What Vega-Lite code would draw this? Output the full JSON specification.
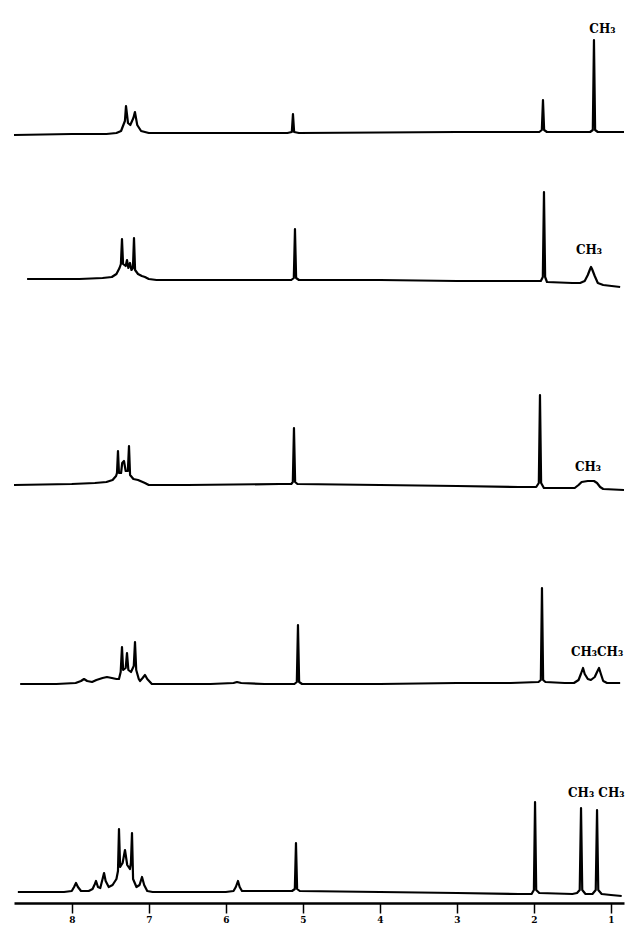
{
  "$schema": "https://vega.github.io/schema/vega-lite/v6.json",
  "padding": {"left": 12, "top": 0, "right": 0, "bottom": 0},
  "spacing": 0,
  "bounds": "flush",
  "config": {"view": {"stroke": null}},
  "datasets": {
    "spectra": [
      {"s":1,"ppm":8.75,"i":-2},{"s":1,"ppm":8.0,"i":-1},{"s":1,"ppm":7.55,"i":-1},{"s":1,"ppm":7.42,"i":0},{"s":1,"ppm":7.36,"i":2},{"s":1,"ppm":7.31,"i":12},{"s":1,"ppm":7.296,"i":27},{"s":1,"ppm":7.27,"i":10},{"s":1,"ppm":7.24,"i":8},{"s":1,"ppm":7.20,"i":15},{"s":1,"ppm":7.18,"i":21},{"s":1,"ppm":7.15,"i":8},{"s":1,"ppm":7.10,"i":2},{"s":1,"ppm":7.0,"i":0},{"s":1,"ppm":6.0,"i":0},{"s":1,"ppm":5.20,"i":0},{"s":1,"ppm":5.143,"i":1},{"s":1,"ppm":5.128,"i":19},{"s":1,"ppm":5.113,"i":1},{"s":1,"ppm":5.05,"i":0},{"s":1,"ppm":4.0,"i":0.5},{"s":1,"ppm":3.0,"i":1},{"s":1,"ppm":2.0,"i":1},{"s":1,"ppm":1.93,"i":1},{"s":1,"ppm":1.897,"i":3},{"s":1,"ppm":1.882,"i":33},{"s":1,"ppm":1.867,"i":3},{"s":1,"ppm":1.83,"i":1},{"s":1,"ppm":1.27,"i":1},{"s":1,"ppm":1.235,"i":3},{"s":1,"ppm":1.22,"i":93},{"s":1,"ppm":1.205,"i":3},{"s":1,"ppm":1.17,"i":1},{"s":1,"ppm":0.83,"i":1},

      {"s":2,"ppm":8.58,"i":1},{"s":2,"ppm":7.9,"i":1},{"s":2,"ppm":7.6,"i":2},{"s":2,"ppm":7.48,"i":3},{"s":2,"ppm":7.42,"i":6},{"s":2,"ppm":7.38,"i":12},{"s":2,"ppm":7.362,"i":16},{"s":2,"ppm":7.348,"i":41},{"s":2,"ppm":7.334,"i":16},{"s":2,"ppm":7.30,"i":14},{"s":2,"ppm":7.283,"i":20},{"s":2,"ppm":7.265,"i":12},{"s":2,"ppm":7.244,"i":17},{"s":2,"ppm":7.225,"i":10},{"s":2,"ppm":7.206,"i":12},{"s":2,"ppm":7.192,"i":42},{"s":2,"ppm":7.178,"i":10},{"s":2,"ppm":7.14,"i":6},{"s":2,"ppm":7.09,"i":4},{"s":2,"ppm":7.05,"i":3},{"s":2,"ppm":7.0,"i":1},{"s":2,"ppm":6.9,"i":0},{"s":2,"ppm":6.0,"i":0},{"s":2,"ppm":5.3,"i":0},{"s":2,"ppm":5.15,"i":0},{"s":2,"ppm":5.117,"i":2},{"s":2,"ppm":5.102,"i":51},{"s":2,"ppm":5.087,"i":2},{"s":2,"ppm":5.05,"i":0},{"s":2,"ppm":4.0,"i":0},{"s":2,"ppm":3.0,"i":-1},{"s":2,"ppm":2.2,"i":-1},{"s":2,"ppm":1.91,"i":-1},{"s":2,"ppm":1.884,"i":3},{"s":2,"ppm":1.869,"i":88},{"s":2,"ppm":1.854,"i":3},{"s":2,"ppm":1.83,"i":-2},{"s":2,"ppm":1.5,"i":-3},{"s":2,"ppm":1.40,"i":-3},{"s":2,"ppm":1.34,"i":-1},{"s":2,"ppm":1.30,"i":5},{"s":2,"ppm":1.27,"i":11},{"s":2,"ppm":1.258,"i":13},{"s":2,"ppm":1.245,"i":11},{"s":2,"ppm":1.21,"i":4},{"s":2,"ppm":1.17,"i":-3},{"s":2,"ppm":1.1,"i":-5},{"s":2,"ppm":0.88,"i":-7},

      {"s":3,"ppm":8.75,"i":0},{"s":3,"ppm":8.0,"i":1},{"s":3,"ppm":7.7,"i":2},{"s":3,"ppm":7.55,"i":3},{"s":3,"ppm":7.47,"i":5},{"s":3,"ppm":7.425,"i":9},{"s":3,"ppm":7.413,"i":12},{"s":3,"ppm":7.400,"i":34},{"s":3,"ppm":7.387,"i":12},{"s":3,"ppm":7.36,"i":12},{"s":3,"ppm":7.345,"i":22},{"s":3,"ppm":7.322,"i":24},{"s":3,"ppm":7.30,"i":14},{"s":3,"ppm":7.272,"i":14},{"s":3,"ppm":7.257,"i":39},{"s":3,"ppm":7.243,"i":10},{"s":3,"ppm":7.20,"i":6},{"s":3,"ppm":7.14,"i":5},{"s":3,"ppm":7.11,"i":4},{"s":3,"ppm":7.05,"i":2},{"s":3,"ppm":7.0,"i":0},{"s":3,"ppm":6.5,"i":0},{"s":3,"ppm":5.3,"i":1},{"s":3,"ppm":5.15,"i":1},{"s":3,"ppm":5.13,"i":3},{"s":3,"ppm":5.115,"i":57},{"s":3,"ppm":5.10,"i":3},{"s":3,"ppm":5.07,"i":1},{"s":3,"ppm":4.0,"i":0},{"s":3,"ppm":3.0,"i":-1},{"s":3,"ppm":2.2,"i":-2},{"s":3,"ppm":1.97,"i":-2},{"s":3,"ppm":1.936,"i":2},{"s":3,"ppm":1.921,"i":90},{"s":3,"ppm":1.906,"i":2},{"s":3,"ppm":1.87,"i":-3},{"s":3,"ppm":1.6,"i":-3},{"s":3,"ppm":1.47,"i":-3},{"s":3,"ppm":1.42,"i":0},{"s":3,"ppm":1.38,"i":3},{"s":3,"ppm":1.30,"i":4},{"s":3,"ppm":1.22,"i":4},{"s":3,"ppm":1.18,"i":2},{"s":3,"ppm":1.14,"i":-2},{"s":3,"ppm":1.10,"i":-4},{"s":3,"ppm":0.83,"i":-5},

      {"s":4,"ppm":8.67,"i":0},{"s":4,"ppm":8.2,"i":0},{"s":4,"ppm":7.95,"i":1},{"s":4,"ppm":7.88,"i":3},{"s":4,"ppm":7.841,"i":5},{"s":4,"ppm":7.80,"i":3},{"s":4,"ppm":7.737,"i":2},{"s":4,"ppm":7.68,"i":4},{"s":4,"ppm":7.60,"i":6},{"s":4,"ppm":7.543,"i":7},{"s":4,"ppm":7.48,"i":6},{"s":4,"ppm":7.42,"i":5},{"s":4,"ppm":7.387,"i":5},{"s":4,"ppm":7.365,"i":12},{"s":4,"ppm":7.348,"i":37},{"s":4,"ppm":7.333,"i":14},{"s":4,"ppm":7.30,"i":16},{"s":4,"ppm":7.283,"i":31},{"s":4,"ppm":7.265,"i":14},{"s":4,"ppm":7.231,"i":12},{"s":4,"ppm":7.195,"i":18},{"s":4,"ppm":7.179,"i":42},{"s":4,"ppm":7.163,"i":14},{"s":4,"ppm":7.13,"i":5},{"s":4,"ppm":7.114,"i":3},{"s":4,"ppm":7.08,"i":6},{"s":4,"ppm":7.049,"i":9},{"s":4,"ppm":7.02,"i":5},{"s":4,"ppm":6.96,"i":0},{"s":4,"ppm":6.2,"i":0},{"s":4,"ppm":5.90,"i":1},{"s":4,"ppm":5.855,"i":2},{"s":4,"ppm":5.80,"i":1},{"s":4,"ppm":5.5,"i":0},{"s":4,"ppm":5.11,"i":0},{"s":4,"ppm":5.078,"i":2},{"s":4,"ppm":5.063,"i":59},{"s":4,"ppm":5.048,"i":2},{"s":4,"ppm":5.01,"i":0},{"s":4,"ppm":4.0,"i":0},{"s":4,"ppm":3.0,"i":1},{"s":4,"ppm":2.3,"i":1},{"s":4,"ppm":1.94,"i":2},{"s":4,"ppm":1.91,"i":4},{"s":4,"ppm":1.895,"i":96},{"s":4,"ppm":1.88,"i":4},{"s":4,"ppm":1.85,"i":2},{"s":4,"ppm":1.6,"i":1},{"s":4,"ppm":1.48,"i":1},{"s":4,"ppm":1.42,"i":4},{"s":4,"ppm":1.39,"i":10},{"s":4,"ppm":1.362,"i":16},{"s":4,"ppm":1.34,"i":10},{"s":4,"ppm":1.30,"i":5},{"s":4,"ppm":1.26,"i":4},{"s":4,"ppm":1.21,"i":7},{"s":4,"ppm":1.18,"i":12},{"s":4,"ppm":1.154,"i":16},{"s":4,"ppm":1.13,"i":10},{"s":4,"ppm":1.10,"i":3},{"s":4,"ppm":1.05,"i":1},{"s":4,"ppm":0.88,"i":1},

      {"s":5,"ppm":8.70,"i":1},{"s":5,"ppm":8.10,"i":1},{"s":5,"ppm":8.00,"i":2},{"s":5,"ppm":7.97,"i":6},{"s":5,"ppm":7.945,"i":10},{"s":5,"ppm":7.92,"i":6},{"s":5,"ppm":7.88,"i":2},{"s":5,"ppm":7.78,"i":2},{"s":5,"ppm":7.73,"i":4},{"s":5,"ppm":7.70,"i":9},{"s":5,"ppm":7.685,"i":12},{"s":5,"ppm":7.66,"i":6},{"s":5,"ppm":7.63,"i":5},{"s":5,"ppm":7.60,"i":14},{"s":5,"ppm":7.581,"i":20},{"s":5,"ppm":7.56,"i":12},{"s":5,"ppm":7.52,"i":6},{"s":5,"ppm":7.47,"i":8},{"s":5,"ppm":7.42,"i":14},{"s":5,"ppm":7.40,"i":22},{"s":5,"ppm":7.387,"i":64},{"s":5,"ppm":7.372,"i":26},{"s":5,"ppm":7.34,"i":30},{"s":5,"ppm":7.309,"i":43},{"s":5,"ppm":7.28,"i":28},{"s":5,"ppm":7.245,"i":24},{"s":5,"ppm":7.232,"i":30},{"s":5,"ppm":7.218,"i":60},{"s":5,"ppm":7.204,"i":14},{"s":5,"ppm":7.16,"i":6},{"s":5,"ppm":7.12,"i":8},{"s":5,"ppm":7.088,"i":16},{"s":5,"ppm":7.06,"i":8},{"s":5,"ppm":7.02,"i":2},{"s":5,"ppm":6.95,"i":1},{"s":5,"ppm":6.0,"i":1},{"s":5,"ppm":5.90,"i":2},{"s":5,"ppm":5.87,"i":6},{"s":5,"ppm":5.842,"i":12},{"s":5,"ppm":5.82,"i":6},{"s":5,"ppm":5.79,"i":2},{"s":5,"ppm":5.5,"i":2},{"s":5,"ppm":5.14,"i":2},{"s":5,"ppm":5.104,"i":4},{"s":5,"ppm":5.089,"i":50},{"s":5,"ppm":5.074,"i":4},{"s":5,"ppm":5.04,"i":2},{"s":5,"ppm":4.0,"i":1},{"s":5,"ppm":3.0,"i":0},{"s":5,"ppm":2.2,"i":-1},{"s":5,"ppm":2.03,"i":-1},{"s":5,"ppm":2.0,"i":3},{"s":5,"ppm":1.985,"i":91},{"s":5,"ppm":1.97,"i":3},{"s":5,"ppm":1.93,"i":0},{"s":5,"ppm":1.5,"i":-1},{"s":5,"ppm":1.44,"i":0},{"s":5,"ppm":1.405,"i":3},{"s":5,"ppm":1.388,"i":85},{"s":5,"ppm":1.372,"i":3},{"s":5,"ppm":1.33,"i":-1},{"s":5,"ppm":1.24,"i":-1},{"s":5,"ppm":1.197,"i":3},{"s":5,"ppm":1.180,"i":83},{"s":5,"ppm":1.164,"i":3},{"s":5,"ppm":1.12,"i":-1},{"s":5,"ppm":1.0,"i":-2},{"s":5,"ppm":0.86,"i":-3}
    ],
    "labels": [
      {"s":1,"ppm":1.11,"i":104,"label":"CH₃"},
      {"s":2,"ppm":1.284,"i":30,"label":"CH₃"},
      {"s":3,"ppm":1.297,"i":18,"label":"CH₃"},
      {"s":4,"ppm":1.18,"i":32,"label":"CH₃CH₃"},
      {"s":5,"ppm":1.19,"i":100,"label":"CH₃ CH₃"}
    ]
  },
  "vconcat": [
    {
      "width": 610, "height": 140,
      "layer": [
        {"data": {"name": "spectra"}, "transform": [{"filter": "datum.s == 1"}],
         "mark": {"type": "line", "color": "black", "strokeWidth": 2.2, "strokeJoin": "round"},
         "encoding": {
           "x": {"field": "ppm", "type": "quantitative", "scale": {"domain": [8.75, 0.83], "nice": false, "zero": false}, "axis": null},
           "y": {"field": "i", "type": "quantitative", "scale": {"domain": [-7, 133], "nice": false, "zero": false}, "axis": null}}},
        {"data": {"name": "labels"}, "transform": [{"filter": "datum.s == 1"}],
         "mark": {"type": "text", "font": "DejaVu Serif", "fontWeight": "bold", "fontSize": 12, "align": "center", "baseline": "middle", "color": "black"},
         "encoding": {
           "x": {"field": "ppm", "type": "quantitative", "scale": {"domain": [8.75, 0.83], "nice": false, "zero": false}, "axis": null},
           "y": {"field": "i", "type": "quantitative", "scale": {"domain": [-7, 133], "nice": false, "zero": false}, "axis": null},
           "text": {"field": "label"}}}
      ]
    },
    {
      "width": 610, "height": 150,
      "layer": [
        {"data": {"name": "spectra"}, "transform": [{"filter": "datum.s == 2"}],
         "mark": {"type": "line", "color": "black", "strokeWidth": 2.2, "strokeJoin": "round"},
         "encoding": {
           "x": {"field": "ppm", "type": "quantitative", "scale": {"domain": [8.75, 0.83], "nice": false, "zero": false}, "axis": null},
           "y": {"field": "i", "type": "quantitative", "scale": {"domain": [-10, 140], "nice": false, "zero": false}, "axis": null}}},
        {"data": {"name": "labels"}, "transform": [{"filter": "datum.s == 2"}],
         "mark": {"type": "text", "font": "DejaVu Serif", "fontWeight": "bold", "fontSize": 12, "align": "center", "baseline": "middle", "color": "black"},
         "encoding": {
           "x": {"field": "ppm", "type": "quantitative", "scale": {"domain": [8.75, 0.83], "nice": false, "zero": false}, "axis": null},
           "y": {"field": "i", "type": "quantitative", "scale": {"domain": [-10, 140], "nice": false, "zero": false}, "axis": null},
           "text": {"field": "label"}}}
      ]
    },
    {
      "width": 610, "height": 205,
      "layer": [
        {"data": {"name": "spectra"}, "transform": [{"filter": "datum.s == 3"}],
         "mark": {"type": "line", "color": "black", "strokeWidth": 2.2, "strokeJoin": "round"},
         "encoding": {
           "x": {"field": "ppm", "type": "quantitative", "scale": {"domain": [8.75, 0.83], "nice": false, "zero": false}, "axis": null},
           "y": {"field": "i", "type": "quantitative", "scale": {"domain": [-10, 195], "nice": false, "zero": false}, "axis": null}}},
        {"data": {"name": "labels"}, "transform": [{"filter": "datum.s == 3"}],
         "mark": {"type": "text", "font": "DejaVu Serif", "fontWeight": "bold", "fontSize": 12, "align": "center", "baseline": "middle", "color": "black"},
         "encoding": {
           "x": {"field": "ppm", "type": "quantitative", "scale": {"domain": [8.75, 0.83], "nice": false, "zero": false}, "axis": null},
           "y": {"field": "i", "type": "quantitative", "scale": {"domain": [-10, 195], "nice": false, "zero": false}, "axis": null},
           "text": {"field": "label"}}}
      ]
    },
    {
      "width": 610, "height": 200,
      "layer": [
        {"data": {"name": "spectra"}, "transform": [{"filter": "datum.s == 4"}],
         "mark": {"type": "line", "color": "black", "strokeWidth": 2.2, "strokeJoin": "round"},
         "encoding": {
           "x": {"field": "ppm", "type": "quantitative", "scale": {"domain": [8.75, 0.83], "nice": false, "zero": false}, "axis": null},
           "y": {"field": "i", "type": "quantitative", "scale": {"domain": [-11, 189], "nice": false, "zero": false}, "axis": null}}},
        {"data": {"name": "labels"}, "transform": [{"filter": "datum.s == 4"}],
         "mark": {"type": "text", "font": "DejaVu Serif", "fontWeight": "bold", "fontSize": 12, "align": "center", "baseline": "middle", "color": "black"},
         "encoding": {
           "x": {"field": "ppm", "type": "quantitative", "scale": {"domain": [8.75, 0.83], "nice": false, "zero": false}, "axis": null},
           "y": {"field": "i", "type": "quantitative", "scale": {"domain": [-11, 189], "nice": false, "zero": false}, "axis": null},
           "text": {"field": "label"}}}
      ]
    },
    {
      "width": 610, "height": 208,
      "layer": [
        {"data": {"name": "spectra"}, "transform": [{"filter": "datum.s == 5"}],
         "mark": {"type": "line", "color": "black", "strokeWidth": 2.2, "strokeJoin": "round"},
         "encoding": {
           "x": {"field": "ppm", "type": "quantitative", "scale": {"domain": [8.75, 0.83], "nice": false, "zero": false},
                 "axis": {"title": null, "values": [1,2,3,4,5,6,7,8], "format": "d", "grid": false, "domainColor": "black", "domainWidth": 2.5, "tickColor": "black", "tickWidth": 1.5, "tickSize": 10, "labelColor": "black", "labelFont": "DejaVu Serif", "labelFontWeight": "bold", "labelFontSize": 9, "labelPadding": 2}},
           "y": {"field": "i", "type": "quantitative", "scale": {"domain": [-10, 198], "nice": false, "zero": false}, "axis": null}}},
        {"data": {"name": "labels"}, "transform": [{"filter": "datum.s == 5"}],
         "mark": {"type": "text", "font": "DejaVu Serif", "fontWeight": "bold", "fontSize": 12, "align": "center", "baseline": "middle", "color": "black"},
         "encoding": {
           "x": {"field": "ppm", "type": "quantitative", "scale": {"domain": [8.75, 0.83], "nice": false, "zero": false}},
           "y": {"field": "i", "type": "quantitative", "scale": {"domain": [-10, 198], "nice": false, "zero": false}, "axis": null},
           "text": {"field": "label"}}}
      ]
    }
  ]
}
